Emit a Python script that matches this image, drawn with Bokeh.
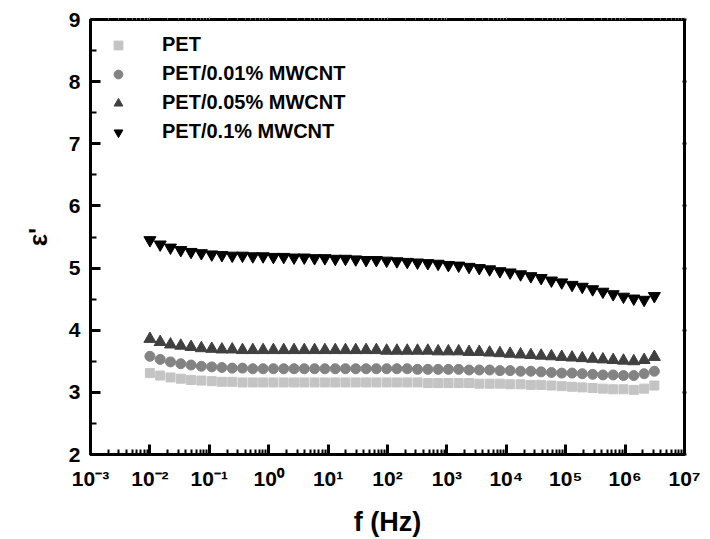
from bokeh.plotting import figure
from bokeh.models import (FixedTicker, LinearAxis, LogAxis, CustomJSTickFormatter,
                          Legend, LegendItem, ColumnDataSource)
from bokeh.embed import file_html
from bokeh.resources import INLINE

# ---------------- data ----------------
freq = [1.00e-2, 1.49e-2, 2.22e-2, 3.31e-2, 4.93e-2, 7.35e-2, 1.10e-1, 1.63e-1, 2.43e-1, 3.62e-1,
        5.40e-1, 8.05e-1, 1.20e0, 1.79e0, 2.67e0, 3.97e0, 5.92e0, 8.83e0, 1.32e1, 1.96e1,
        2.92e1, 4.36e1, 6.49e1, 9.68e1, 1.44e2, 2.15e2, 3.20e2, 4.78e2, 7.12e2, 1.06e3,
        1.58e3, 2.36e3, 3.51e3, 5.24e3, 7.81e3, 1.16e4, 1.74e4, 2.59e4, 3.86e4, 5.75e4,
        8.57e4, 1.28e5, 1.90e5, 2.84e5, 4.23e5, 6.30e5, 9.39e5, 1.40e6, 2.09e6, 3.11e6]

pet = [3.31, 3.27, 3.24, 3.22, 3.20, 3.19, 3.18, 3.17, 3.17, 3.16,
       3.16, 3.16, 3.16, 3.16, 3.16, 3.16, 3.16, 3.16, 3.16, 3.16,
       3.16, 3.16, 3.16, 3.16, 3.16, 3.16, 3.16, 3.15, 3.15, 3.15,
       3.15, 3.15, 3.14, 3.14, 3.14, 3.13, 3.13, 3.12, 3.12, 3.11,
       3.10, 3.09, 3.08, 3.07, 3.06, 3.05, 3.05, 3.04, 3.06, 3.11]

pet001 = [3.58, 3.53, 3.49, 3.46, 3.44, 3.42, 3.41, 3.40, 3.39, 3.39,
          3.38, 3.38, 3.38, 3.38, 3.38, 3.38, 3.38, 3.38, 3.38, 3.38,
          3.38, 3.38, 3.38, 3.38, 3.38, 3.38, 3.37, 3.37, 3.37, 3.37,
          3.37, 3.36, 3.36, 3.36, 3.35, 3.35, 3.34, 3.34, 3.33, 3.32,
          3.31, 3.31, 3.30, 3.29, 3.28, 3.28, 3.27, 3.27, 3.30, 3.34]

pet005 = [3.86, 3.81, 3.77, 3.75, 3.73, 3.71, 3.70, 3.69, 3.69, 3.68,
          3.68, 3.68, 3.68, 3.68, 3.68, 3.68, 3.68, 3.68, 3.68, 3.68,
          3.68, 3.68, 3.68, 3.67, 3.67, 3.67, 3.67, 3.67, 3.66, 3.66,
          3.66, 3.65, 3.65, 3.64, 3.63, 3.62, 3.61, 3.60, 3.59, 3.58,
          3.57, 3.56, 3.55, 3.54, 3.53, 3.52, 3.51, 3.50, 3.52, 3.57]

pet01 = [5.45, 5.38, 5.33, 5.29, 5.26, 5.24, 5.22, 5.21, 5.20, 5.20,
         5.19, 5.19, 5.18, 5.18, 5.17, 5.17, 5.16, 5.16, 5.15, 5.15,
         5.14, 5.13, 5.13, 5.12, 5.11, 5.10, 5.09, 5.08, 5.07, 5.05,
         5.04, 5.02, 5.00, 4.98, 4.95, 4.93, 4.90, 4.87, 4.84, 4.80,
         4.77, 4.73, 4.70, 4.66, 4.62, 4.58, 4.54, 4.51, 4.49, 4.55]

labels = ["PET", "PET/0.01% MWCNT", "PET/0.05% MWCNT", "PET/0.1% MWCNT"]
x_ticks = [1e-3, 1e-2, 1e-1, 1e0, 1e1, 1e2, 1e3, 1e4, 1e5, 1e6, 1e7]
y_ticks = [2, 3, 4, 5, 6, 7, 8, 9]

FONT = "Liberation Sans"

p = figure(width=710, height=539, x_axis_type="log", output_backend="svg",
           toolbar_location=None, x_range=(1e-3, 1e7), y_range=(2, 9),
           min_border_left=90, min_border_right=26, min_border_top=19,
           min_border_bottom=83)
p.grid.visible = False
p.outline_line_color = "black"
p.outline_line_width = 3
p.background_fill_color = "white"
p.border_fill_color = "white"

src = ColumnDataSource(dict(f=freq, a=pet, b=pet001, c=pet005, d=pet01))
r1 = p.scatter("f", "a", source=src, marker="square", size=9, color="#c4c4c4")
r2 = p.scatter("f", "b", source=src, marker="circle", size=10, color="#838383")
r3 = p.scatter("f", "c", source=src, marker="triangle", size=12, color="#404040")
r4 = p.scatter("f", "d", source=src, marker="inverted_triangle", size=12, color="black")

minor_x = [m * 10.0 ** k for k in range(-3, 7) for m in range(2, 10)]
minor_y = [t + 0.5 for t in y_ticks[:-1]]

fmt = CustomJSTickFormatter(code="""
const sup = {'-':'\\u207B','0':'\\u2070','1':'\\u00B9','2':'\\u00B2','3':'\\u00B3','4':'\\u2074',
             '5':'\\u2075','6':'\\u2076','7':'\\u2077','8':'\\u2078','9':'\\u2079'};
const e = Math.round(Math.log10(tick)).toString();
return '10' + e.split('').map(c => sup[c]).join('');
""")
blank = CustomJSTickFormatter(code="return '';")

xa = p.xaxis[0]
xa.ticker = FixedTicker(ticks=x_ticks, minor_ticks=minor_x)
xa.formatter = fmt
ya = p.yaxis[0]
ya.ticker = FixedTicker(ticks=y_ticks, minor_ticks=minor_y)

for ax in (xa, ya):
    ax.axis_line_width = 3
    ax.axis_line_color = "black"
    ax.major_tick_line_width = 3
    ax.major_tick_line_color = "black"
    ax.minor_tick_line_width = 2
    ax.minor_tick_line_color = "black"
    ax.major_tick_in = 10
    ax.major_tick_out = 0
    ax.minor_tick_in = 6
    ax.minor_tick_out = 0
    ax.major_label_text_font = FONT
    ax.major_label_text_font_style = "bold"
    ax.major_label_text_color = "black"
    ax.axis_label_text_font = FONT
    ax.axis_label_text_font_style = "bold"
    ax.axis_label_text_color = "black"

xa.major_label_text_font_size = "21px"
ya.major_label_text_font_size = "21px"
xa.minor_tick_in = 5
xa.axis_label = "f (Hz)"
xa.axis_label_text_font_size = "27px"
xa.major_label_standoff = 12
xa.axis_label_standoff = 14
ya.axis_label = "ε'"
ya.axis_label_text_font_size = "26px"
ya.major_label_standoff = 10
ya.axis_label_standoff = 13

right = LinearAxis(ticker=FixedTicker(ticks=y_ticks, minor_ticks=minor_y),
                   formatter=blank, axis_line_width=3,
                   major_tick_in=2, major_tick_out=2, minor_tick_in=0, minor_tick_out=0,
                   major_tick_line_width=2)
p.add_layout(right, "right")
top = LogAxis(ticker=FixedTicker(ticks=x_ticks, minor_ticks=minor_x),
              formatter=blank, axis_line_width=3,
              major_tick_in=0, major_tick_out=2, minor_tick_in=0, minor_tick_out=1,
              major_tick_line_color="#999999", minor_tick_line_color="#bbbbbb")
p.add_layout(top, "above")

legend = Legend(items=[LegendItem(label=labels[0], renderers=[r1]),
                       LegendItem(label=labels[1], renderers=[r2]),
                       LegendItem(label=labels[2], renderers=[r3]),
                       LegendItem(label=labels[3], renderers=[r4])],
                location="top_left", border_line_color=None, background_fill_alpha=0,
                margin=14, padding=8, spacing=6, glyph_width=28, glyph_height=22,
                label_height=22, label_standoff=30, label_text_font=FONT,
                label_text_font_style="bold", label_text_font_size="20px",
                label_text_color="black")
p.add_layout(legend)

open("out.html", "w").write(file_html(p, INLINE))
